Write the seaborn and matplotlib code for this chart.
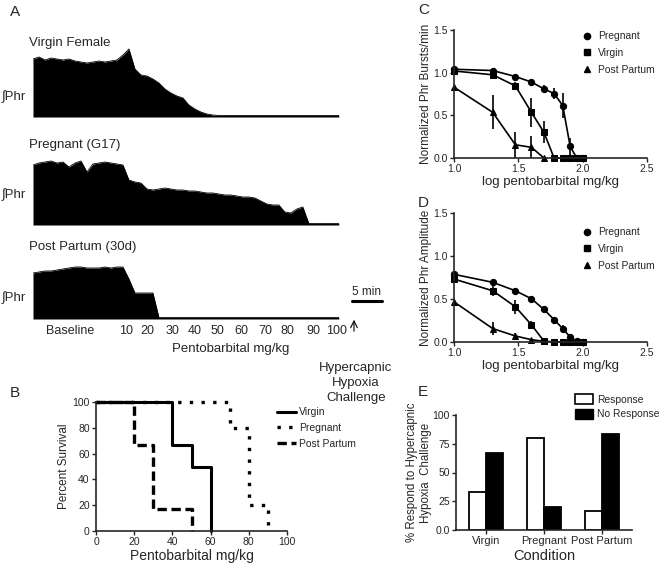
import numpy as np
import pandas as pd
import matplotlib
matplotlib.use("Agg")
import matplotlib.pyplot as plt
import seaborn as sns
from matplotlib.lines import Line2D
from matplotlib.patches import Patch

# ---- data ----
# A: integrated phrenic envelope, read per minute (amplitude in arbitrary units)
trace_min = list(range(52))
virgin_trace = [58, 60, 57, 59, 58, 57, 58, 56, 55, 54, 55, 56, 55, 56, 57, 62, 68, 48, 42, 41,
                38, 34, 28, 24, 21, 19, 12, 8, 5, 3, 2, 1.5, 1.5, 1.5, 1.5, 1.5, 1.5, 1.5, 1.5, 1.5,
                1.5, 1.5, 1.5, 1.5, 1.5, 1.5, 1.5, 1.5, 1.5, 1.5, 1.5, 1.5]
pregnant_trace = [60, 62, 63, 64, 62, 63, 58, 62, 64, 53, 61, 62, 63, 62, 61, 60, 45, 43, 42, 36,
                  35, 36, 37, 36, 35, 35, 34, 34, 33, 32, 32, 31, 30, 30, 29, 28, 28, 27, 24, 21,
                  20, 20, 13, 12, 16, 18, 1.5, 1.5, 1.5, 1.5, 1.5, 1.5]
postpartum_trace = [46, 47, 48, 48, 49, 50, 51, 52, 52, 51, 51, 51, 52, 51, 52, 52, 40, 26, 26, 26,
                    26, 1.5, 1.5, 1.5, 1.5, 1.5, 1.5, 1.5, 1.5, 1.5, 1.5, 1.5, 1.5, 1.5, 1.5, 1.5,
                    1.5, 1.5, 1.5, 1.5, 1.5, 1.5, 1.5, 1.5, 1.5, 1.5, 1.5, 1.5, 1.5, 1.5, 1.5, 1.5]
dose_labels = ["Baseline", "10", "20", "30", "40", "50", "60", "70", "80", "90", "100"]
dose_min = [6.2, 15.5, 19.0, 23.2, 27.0, 30.8, 34.8, 38.7, 42.5, 46.7, 50.7]

# B: survival
virgin_dose = [0, 40, 50, 60]
virgin_surv = [100, 66.7, 50, 0]
pregnant_dose = [0, 70, 80, 90]
pregnant_surv = [100, 80, 20, 0]
postpartum_dose = [0, 20, 30, 50]
postpartum_surv = [100, 66.7, 16.7, 0]

# C, D: dose response
log_dose = [1.0, 1.301, 1.477, 1.602, 1.699, 1.778, 1.845, 1.903, 1.954, 2.0]
preg_bursts = [1.04, 1.025, 0.955, 0.89, 0.81, 0.755, 0.615, 0.135, 0.0, 0.0]
preg_bursts_err = [0.02, 0.02, 0.02, 0.02, 0.04, 0.06, 0.15, 0.1, 0, 0]
virg_bursts = [1.02, 0.975, 0.845, 0.535, 0.30, 0, 0, 0, 0, 0]
virg_bursts_err = [0.02, 0.02, 0.05, 0.17, 0.13, 0, 0, 0, 0, 0]
pp_bursts = [0.83, 0.535, 0.155, 0.125, 0.0]
pp_bursts_err = [0.0, 0.2, 0.15, 0.13, 0.0]

preg_amp = [0.787, 0.694, 0.596, 0.503, 0.378, 0.26, 0.156, 0.058, 0.008, 0.0]
preg_amp_err = [0.02, 0.03, 0.02, 0.03, 0.03, 0.03, 0.04, 0.03, 0.02, 0]
virg_amp = [0.732, 0.596, 0.41, 0.2, 0.01, 0, 0, 0, 0, 0]
virg_amp_err = [0.03, 0.06, 0.08, 0.05, 0.01, 0, 0, 0, 0, 0]
pp_amp = [0.467, 0.156, 0.07, 0.027, 0.008]
pp_amp_err = [0.0, 0.08, 0.03, 0.01, 0.0]

# E: hypercapnic hypoxia response
conditions = ["Virgin", "Pregnant", "Post Partum"]
response_pct = [33.3, 80.0, 16.7]
no_response_pct = [66.7, 20.0, 83.3]

sns.set_theme(style="ticks", rc={"axes.linewidth": 1.2, "xtick.major.width": 1.0,
                                 "ytick.major.width": 1.0, "xtick.major.size": 3,
                                 "ytick.major.size": 3})
plt.rcParams['font.family'] = ['Liberation Sans', 'DejaVu Sans']

W, H = 661, 566
fig = plt.figure(figsize=(W / 100, H / 100), dpi=100)


def add_ax(x0, y0, x1, y1):
    return fig.add_axes([x0 / W, 1 - y1 / H, (x1 - x0) / W, (y1 - y0) / H])


def ftext(x, y, s, **kw):
    fig.text(x / W, 1 - y / H, s, **kw)


# ---- A ----
ftext(10, 12, "A", fontsize=11, va="center")
traces = [("Virgin Female", virgin_trace, (40, 119), 43, 97),
          ("Pregnant (G17)", pregnant_trace, (150, 227), 145, 195),
          ("Post Partum (30d)", postpartum_trace, (261, 321), 247, 298)]
for name, amp, (y0, y1), ty, py in traces:
    ax = add_ax(33, y0, 340, y1)
    ax.fill_between(trace_min, 0, amp, color="black", lw=0)
    sns.lineplot(x=trace_min, y=amp, color="black", lw=0.6, ax=ax)
    ax.set_xlim(0, 51.2)
    ax.set_ylim(-2, (y1 - y0) - 2)
    sns.despine(ax=ax, left=True, bottom=True)
    ax.set_yticks([])
    ax.set_xticks([])
    ftext(29, ty, name, fontsize=9.5, va="center")
    ftext(2, py, "∫Phr", fontsize=9.5, va="center")

ax.set_xticks(dose_min, dose_labels, fontsize=9)
ax.tick_params(axis="x", length=0, pad=3)
ftext(231, 349, "Pentobarbital mg/kg", fontsize=9.5, ha="center", va="center")
ax.plot([53.2, 58.2], [18, 18], color="black", lw=2.2, clip_on=False)
ax.text(55.7, 21, "5 min", ha="center", va="bottom", fontsize=8.5)
ax.annotate("", xy=(354 / W, 1 - 317 / H), xytext=(354 / W, 1 - 334 / H),
            xycoords="figure fraction", textcoords="figure fraction",
            arrowprops=dict(arrowstyle="->", lw=0.8, color="black"))
ftext(356, 383, "Hypercapnic\nHypoxia\nChallenge", fontsize=9.5, ha="center", va="center",
      linespacing=1.3)

# ---- B ----
ftext(10, 393, "B", fontsize=11, va="center")
axb = add_ax(96, 402, 287, 531)
sns.lineplot(x=virgin_dose, y=virgin_surv, drawstyle="steps-post", color="black", lw=2.2,
             ax=axb, label="Virgin", clip_on=False)
sns.lineplot(x=pregnant_dose, y=pregnant_surv, drawstyle="steps-post", color="black", lw=2.4,
             ax=axb, label="Pregnant", clip_on=False, linestyle=(0, (1, 2.5)))
sns.lineplot(x=postpartum_dose, y=postpartum_surv, drawstyle="steps-post", color="black", lw=2.4,
             ax=axb, label="Post Partum", clip_on=False, linestyle=(0, (2.8, 1.4)))
axb.set_xlim(0, 100)
axb.set_ylim(0, 100)
axb.set_xticks(range(0, 101, 20))
axb.set_yticks(range(0, 101, 20))
axb.tick_params(labelsize=7.5, pad=1.5)
axb.set_xlabel("Pentobarbital mg/kg", fontsize=10, labelpad=1)
axb.set_ylabel("Percent Survival", fontsize=8.5, labelpad=2)
sns.despine(ax=axb)
axb.legend(loc="upper left", bbox_to_anchor=(268 / W, 1 - 398 / H), bbox_transform=fig.transFigure,
           frameon=False, fontsize=7.5, handlelength=1.8, handletextpad=0.3, labelspacing=0.55)

# ---- C, D ----
def dose_panel(box, preg, preg_err, virg, virg_err, pp, pp_err, ylabel, label, lab_y, leg_y):
    axc = add_ax(*box)
    series = [(preg, preg_err, "o", "Pregnant", 4.5),
              (virg, virg_err, "s", "Virgin", 4.2),
              (pp, pp_err, "^", "Post Partum", 4.5)]
    handles = []
    for vals, err, mk, nm, ms in series:
        xs = log_dose[:len(vals)]
        sns.lineplot(x=xs, y=vals, color="black", lw=1.2, marker=mk, markersize=ms,
                     markeredgecolor="black", ax=axc, clip_on=False)
        axc.errorbar(xs, vals, yerr=err, fmt="none", ecolor="black", elinewidth=1.2,
                     capsize=0, clip_on=False)
        handles.append(Line2D([], [], color="black", marker=mk, ls="none", markersize=ms, label=nm))
    axc.set_xlim(1.0, 2.5)
    axc.set_ylim(0, 1.5)
    axc.set_xticks([1.0, 1.5, 2.0, 2.5], ["1.0", "1.5", "2.0", "2.5"])
    axc.set_yticks([0.0, 0.5, 1.0, 1.5], ["0.0", "0.5", "1.0", "1.5"])
    axc.tick_params(labelsize=7.5, pad=1.5)
    axc.set_xlabel("log pentobarbital mg/kg", fontsize=9.5, labelpad=1)
    axc.set_ylabel(ylabel, fontsize=8.5, labelpad=1)
    sns.despine(ax=axc)
    axc.legend(handles=handles, loc="upper left", bbox_to_anchor=(573 / W, 1 - leg_y / H),
               bbox_transform=fig.transFigure, frameon=False, fontsize=7.4,
               handlelength=1.0, handletextpad=0.5, labelspacing=0.65)
    ftext(418, lab_y, label, fontsize=11, va="center")


dose_panel((454, 30, 647, 158), preg_bursts, preg_bursts_err, virg_bursts, virg_bursts_err,
           pp_bursts, pp_bursts_err, "Normalized Phr Bursts/min", "C", 10, 22)
dose_panel((454, 213, 647, 342), preg_amp, preg_amp_err, virg_amp, virg_amp_err,
           pp_amp, pp_amp_err, "Normalized Phr Amplitude", "D", 203, 218)

# ---- E ----
ftext(418, 392, "E", fontsize=11, va="center")
axe = add_ax(456, 415, 632, 530)
df_e = pd.DataFrame({
    "Condition": conditions * 2,
    "pct": response_pct + no_response_pct,
    "Outcome": ["Response"] * 3 + ["No Response"] * 3,
})
sns.barplot(data=df_e, x="Condition", y="pct", hue="Outcome",
            palette={"Response": "white", "No Response": "black"},
            edgecolor="black", linewidth=1.3, width=0.575, ax=axe, legend=False)
axe.set_xlim(-0.52, 2.52)
axe.set_ylim(0, 100)
axe.set_yticks([0, 25, 50, 75, 100], ["0.0", "25", "50", "75", "100"])
axe.tick_params(labelsize=7.5, pad=1.5)
axe.tick_params(axis="x", labelsize=8)
axe.set_xlabel("Condition", fontsize=10.5, labelpad=2)
axe.set_ylabel("% Respond to Hypercapnic\nHypoxia  Challenge", fontsize=8.3)
axe.yaxis.set_label_coords(-0.135, 0.5)
sns.despine(ax=axe)
axe.legend(handles=[Patch(facecolor="white", edgecolor="black", lw=1.2, label="Response"),
                    Patch(facecolor="black", edgecolor="black", label="No Response")],
           loc="upper left", bbox_to_anchor=(566 / W, 1 - 385 / H), bbox_transform=fig.transFigure,
           frameon=False, fontsize=7.4, handlelength=1.7, handleheight=1.1,
           handletextpad=0.4, labelspacing=0.4)

fig.savefig("out.png", dpi=100)
